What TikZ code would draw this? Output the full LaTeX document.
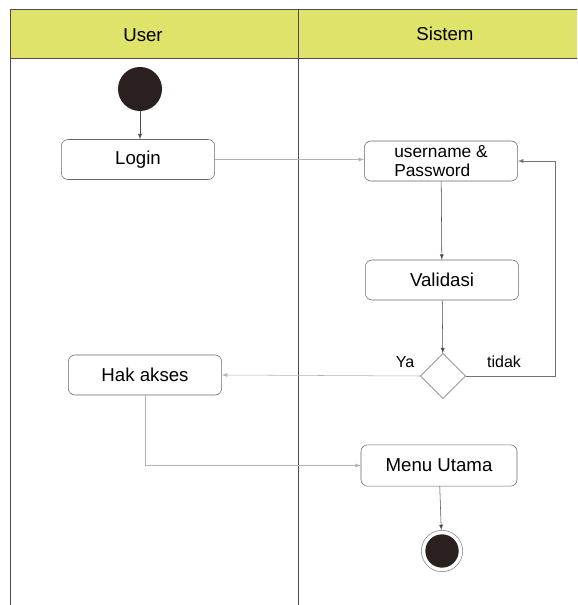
\documentclass[tikz,border=0pt]{standalone}
\usepackage{fontspec}
\setmainfont{Liberation Sans}
\usepackage{xcolor}
\usetikzlibrary{calc, shapes.geometric, positioning}

\definecolor{kuninglajur}{HTML}{E0E36A}
\definecolor{hitamawal}{HTML}{2A2020}

\begin{document}
\begin{tikzpicture}[>=latex, x=0.75pt, y=-0.75pt,
    aktivitas/.style={draw=black!60, rounded corners=5pt, minimum width=115pt,
        minimum height=30pt, align=center, font=\fontsize{14}{15}\selectfont},
    alur/.style={->, draw=black!70},
    alurtipis/.style={->, draw=black!30}]
    \useasboundingbox (0,0) rectangle (577,605);

    % Lajur (swimlane)
    \fill[kuninglajur] (10,9) rectangle (577,58);
    \draw[black!70] (577,9) -- (10,9) -- (10,605);
    \draw[black!70] (10,58) -- (577,58);
    \draw[black!70] (298,9) -- (298,605);
    \node[font=\fontsize{14}{15}\selectfont] (lajurUser) at (143,35) {User};
    \node[font=\fontsize{14}{15}\selectfont] (lajurSistem) at (445,34) {Sistem};

    % Aktivitas
    \node[circle, fill=hitamawal, minimum size=33pt, inner sep=0] (mulai) at (140,89) {};
    \node[aktivitas] (login) at (138,159.5) {Login};
    \node[aktivitas, align=left, font=\fontsize{13}{14}\selectfont] (pwd) at (441,161) {username \&\\Password};
    \node[aktivitas] (validasi) at (442,280) {Validasi};
    \node[diamond, draw=black!60, minimum width=34pt, minimum height=34pt,
        inner sep=0] (keputusan) at (443,376) {};
    \node[aktivitas] (hak) at (145,375) {Hak akses};
    \node[aktivitas, minimum width=117pt, minimum height=31pt] (menu) at (439,465.5) {Menu Utama};
    \node[circle, draw=black!50, minimum size=31pt, inner sep=0] (akhir) at (442,551) {};
    \fill[hitamawal] (akhir) circle (12.5pt);

    % Label keputusan
    \node[font=\fontsize{12}{13}\selectfont] (ya) at ($(keputusan)+(-38,-14)$) {Ya};
    \node[font=\fontsize{12}{13}\selectfont] (tidak) at ($(keputusan)+(61,-14)$) {tidak};

    % Alur
    \draw[alur] (mulai) -- (mulai |- login.north);
    \draw[alurtipis] (login.east) -- (login.east -| pwd.west);
    \draw[alur] (pwd) -- (validasi);
    \draw[alur] (validasi) -- (keputusan);
    \draw[alurtipis] (keputusan.west) -- (hak.east);
    \coordinate (belok) at (555,376);
    \draw[alur, draw=black!55] (keputusan.east) -- (belok) |- (pwd.east);
    \draw[alurtipis] (hak.south) |- (menu.west);
    \draw[alur] (menu) -- (akhir);
\end{tikzpicture}
\end{document}
